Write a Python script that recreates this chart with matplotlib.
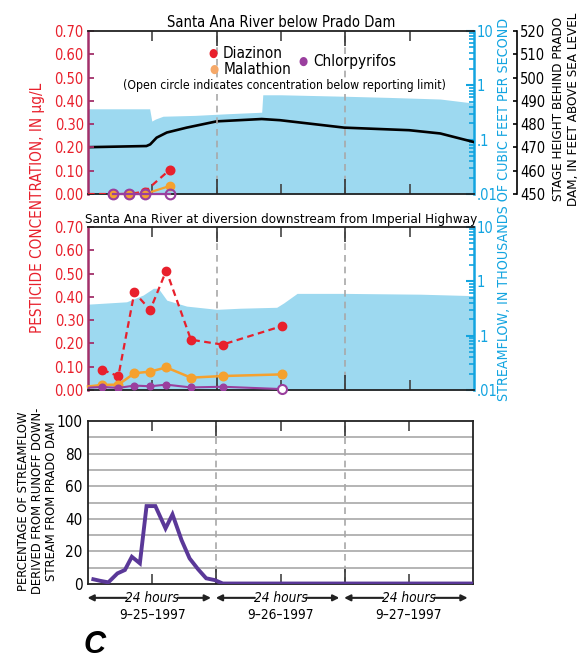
import matplotlib
matplotlib.use("Agg")
import matplotlib.pyplot as plt
from matplotlib.ticker import FixedLocator, NullFormatter, LogLocator, FixedFormatter
import numpy as np

plt.rcParams['font.family'] = ['DejaVu Sans']
plt.rcParams['font.stretch'] = 'condensed'

RED = '#e8202c'
ORANGE = '#f5a12e'
PURPLE = '#9a3f9e'
DARKPURPLE = '#5a3898'
CYAN = '#12a4e0'
FILL = '#9dd9f0'
LEFTSPINE = '#a3306a'
GRIDGRAY = '#b4b4b4'

# ---- Santa Ana River below Prado Dam ----
q1_hours = [0, 11.5, 11.9, 12.6, 14.0, 20.0, 26.0, 32.4, 32.6, 36.0, 47.8, 56.0, 65.7, 72]
q1_flow = [0.37, 0.37, 0.22, 0.24, 0.27, 0.28, 0.30, 0.32, 0.67, 0.67, 0.63, 0.60, 0.56, 0.47]

stage_hours = [0, 10.9, 11.6, 12.8, 14.7, 18.4, 24.0, 32.4, 35.8, 47.8, 59.9, 65.7, 72]
stage_ft = [470.1, 470.6, 471.3, 474.2, 476.4, 478.5, 481.2, 482.2, 481.7, 478.5, 477.4, 476.0, 472.3]

top_hours = [4.7, 7.6, 10.6, 15.3]
top_diaz = [0.0, 0.0, 0.01, 0.105]
top_mal = [0.0, 0.0, 0.0, 0.035]
top_chl = [0.0, 0.0, 0.0, 0.0]

# ---- Santa Ana River at diversion downstream from Imperial Highway ----
q2_hours = [0, 7.2, 10.3, 12.2, 13.1, 14.7, 18.4, 22.1, 24.0, 28.4, 35.2, 36.5, 39.0, 47.8, 62.0, 72]
q2_flow = [0.38, 0.42, 0.56, 0.745, 0.745, 0.45, 0.35, 0.32, 0.305, 0.32, 0.333, 0.40, 0.60, 0.60, 0.58, 0.545]

mid_hours = [2.67, 5.66, 8.65, 11.6, 14.6, 19.2, 25.1, 36.1]
mid_diaz = [0.087, 0.059, 0.419, 0.344, 0.513, 0.216, 0.195, 0.274]
mid_mal = [0.022, 0.023, 0.072, 0.079, 0.097, 0.053, 0.060, 0.067]
mid_chl = [0.013, 0.009, 0.019, 0.016, 0.023, 0.011, 0.014, 0.004]

# ---- runoff percentage ----
pct_hours = [1.0, 2.2, 3.8, 5.5, 6.9, 8.2, 9.7, 10.95, 12.6, 14.5, 15.8, 17.5,
             19.0, 20.6, 22.1, 23.7, 25.2, 72]
pct = [2.9, 2.0, 1.0, 6.5, 8.6, 16.7, 12.7, 47.8, 47.8, 34.1, 42.7, 26.9,
       15.7, 9.0, 3.5, 2.4, 0.3, 0.3]

day_labels = ['9–25–1997', '9–26–1997', '9–27–1997']

fig = plt.figure(figsize=(5.82, 6.59), dpi=100)
L, W = 88 / 582, 386 / 582
H = 163 / 659


def frac(ytop):
    return 1 - (ytop + 163) / 659


def time_axis(ax):
    ax.set_xlim(0, 72)
    ax.xaxis.set_major_locator(FixedLocator([24, 48]))
    ax.xaxis.set_minor_locator(FixedLocator([12, 36, 60]))
    ax.tick_params(axis='x', which='major', direction='in', top=True, bottom=True,
                   length=11, width=1.2, color='#333333', labelbottom=False)
    ax.tick_params(axis='x', which='minor', direction='in', top=True, bottom=True,
                   length=7.5, width=1.2, color='#444444')
    for d in (24, 48):
        ax.axvline(d, color='#a8a8a8', lw=1.2, dashes=(4, 3), zorder=0.5)


def pesticide_panel(ytop, title, fill_h, fill_q, title_size):
    ax = fig.add_axes([L, frac(ytop), W, H])
    axq = ax.twinx()
    axq.set_zorder(1)
    ax.set_zorder(3)
    ax.patch.set_visible(False)

    axq.fill_between(fill_h, 0.01, fill_q, color=FILL, lw=0)
    axq.set_yscale('log')
    axq.set_ylim(0.01, 10)
    axq.yaxis.set_major_locator(FixedLocator([0.01, 0.1, 1, 10]))
    axq.yaxis.set_major_formatter(FixedFormatter(['.01', '.1', '1', '10']))
    axq.yaxis.set_minor_locator(LogLocator(base=10, subs=np.arange(2, 10)))
    axq.yaxis.set_minor_formatter(NullFormatter())
    axq.tick_params(axis='y', which='major', direction='in', length=6, width=1.5,
                    color=CYAN, labelcolor=CYAN, labelsize=10.5, pad=2)
    axq.tick_params(axis='y', which='minor', direction='in', length=3.5, width=1.2, color=CYAN)
    for s in ('left', 'top', 'bottom'):
        axq.spines[s].set_visible(False)
    axq.spines['right'].set_color(CYAN)
    axq.spines['right'].set_linewidth(1.8)

    ax.set_ylim(0, 0.7)
    ax.set_yticks(np.arange(0, 0.71, 0.1))
    ax.set_yticklabels([f'{v:.2f}' for v in np.arange(0, 0.71, 0.1)])
    ax.tick_params(axis='y', direction='in', length=4.5, width=1.3, color=LEFTSPINE,
                   labelcolor=RED, labelsize=10.5, pad=3)
    ax.spines['left'].set_color(LEFTSPINE)
    ax.spines['left'].set_linewidth(1.8)
    ax.spines['right'].set_visible(False)
    for s in ('top', 'bottom'):
        ax.spines[s].set_linewidth(1.3)
        ax.spines[s].set_color('#222222')
    time_axis(ax)
    ax.set_title(title, fontsize=title_size, pad=3)
    return ax, axq


# top panel
ax1, ax1q = pesticide_panel(31, 'Santa Ana River below Prado Dam', q1_hours, q1_flow, 10.6)
ax1s = ax1.twinx()
ax1s.set_zorder(2)
ax1s.patch.set_visible(False)
ax1s.plot(stage_hours, stage_ft, color='black', lw=1.9)
ax1s.set_ylim(450, 520)
ax1s.set_yticks(np.arange(450, 521, 10))
ax1s.spines['right'].set_position(('outward', 31))
ax1s.spines['right'].set_linewidth(1.2)
for s in ('left', 'top', 'bottom'):
    ax1s.spines[s].set_visible(False)
ax1s.tick_params(axis='y', direction='in', length=3, width=1.2, labelsize=10.5, pad=2)

ax1.plot([0] + top_hours, [0] + top_diaz, color=RED, lw=1.6, dashes=(3, 2), zorder=4)
ax1.plot(top_hours[:2], top_diaz[:2], 'o', ms=6.2, mfc='none', mec=RED, mew=1.4,
         clip_on=False, zorder=5)
ax1.plot(top_hours[2:], top_diaz[2:], 'o', ms=6.2, color=RED, clip_on=False, zorder=5)
ax1.plot(top_hours, top_mal, '-o', color=ORANGE, lw=1.6, ms=6.0, clip_on=False, zorder=6)
ax1.plot(top_hours, top_chl, '-o', color=PURPLE, lw=1.6, ms=7.0, mfc='none', mew=1.5,
         clip_on=False, zorder=7)

ax1.text(0.324, 0.862, '●', color=RED, fontsize=8.5, family='DejaVu Sans',
         transform=ax1.transAxes, ha='center', va='center')
ax1.text(0.35, 0.862, 'Diazinon', fontsize=11, transform=ax1.transAxes, va='center')
ax1.text(0.326, 0.765, '●', color='#f5a868', fontsize=8.5, family='DejaVu Sans',
         transform=ax1.transAxes, ha='center', va='center')
ax1.text(0.352, 0.765, 'Malathion', fontsize=11, transform=ax1.transAxes, va='center')
ax1.text(0.557, 0.815, '●', color=PURPLE, fontsize=8.5, family='DejaVu Sans',
         transform=ax1.transAxes, ha='center', va='center')
ax1.text(0.583, 0.815, 'Chlorpyrifos', fontsize=11, transform=ax1.transAxes, va='center')
ax1.text(0.508, 0.668, '(Open circle indicates concentration below reporting limit)',
         fontsize=8.8, transform=ax1.transAxes, ha='center', va='center')

# middle panel
ax2, ax2q = pesticide_panel(227, 'Santa Ana River at diversion downstream from Imperial Highway',
                            q2_hours, q2_flow, 9.6)
ax2.plot(mid_hours, mid_diaz, '-o', color=RED, lw=1.6, dashes=(3, 2), ms=6, zorder=5)
ax2.plot([0] + mid_hours, [0.015] + mid_mal, '-o', color=ORANGE, lw=1.8, ms=6.2,
         markevery=slice(1, None), clip_on=False, zorder=6)
ax2.plot([0] + mid_hours, [0.01] + mid_chl, '-', color=PURPLE, lw=1.5, zorder=7)
ax2.plot(mid_hours[:-1], mid_chl[:-1], 'o', color=PURPLE, ms=4.8, zorder=7)
ax2.plot(mid_hours[-1:], mid_chl[-1:], 'o', ms=6.5, mfc='white', mec=PURPLE, mew=1.5,
         clip_on=False, zorder=8)

# bottom panel
ax3 = fig.add_axes([L, frac(421), 385 / 582, H])
ax3.plot(pct_hours, pct, color=DARKPURPLE, lw=2.8, solid_joinstyle='miter', zorder=4)
ax3.set_ylim(0, 100)
ax3.set_yticks(np.arange(0, 101, 20))
ax3.tick_params(axis='y', length=0, labelsize=11, pad=4)
for g in range(10, 100, 10):
    ax3.axhline(g, color=GRIDGRAY, lw=1.4, zorder=0.4)
for s in ax3.spines.values():
    s.set_linewidth(1.3)
    s.set_color('#222222')
time_axis(ax3)

# day brackets under the time axis
tr = ax3.get_xaxis_transform()
for i, lab in enumerate(day_labels):
    x0 = 24 * i
    xc = x0 + 12
    ax3.text(xc, -0.085, '24 hours', transform=tr, ha='center', va='center',
             fontsize=9.8, style='italic')
    ax3.text(xc, -0.19, lab, transform=tr, ha='center', va='center', fontsize=9.8)
    arrow = dict(arrowstyle='-|>', color='#222222', lw=1.5, mutation_scale=9,
                 shrinkA=0, shrinkB=0)
    ax3.annotate('', xy=(x0 - 0.1, -0.085), xytext=(xc - 4.8, -0.085), xycoords=tr,
                 textcoords=tr, arrowprops=arrow, annotation_clip=False)
    ax3.annotate('', xy=(x0 + 23.0, -0.085), xytext=(xc + 4.8, -0.085), xycoords=tr,
                 textcoords=tr, arrowprops=arrow, annotation_clip=False)

# axis titles
fig.text(38 / 582, 1 - 208 / 659, 'PESTICIDE CONCENTRATION, IN µg/L', color=RED,
         rotation=90, ha='center', va='center', fontsize=11)
fig.text(504 / 582, 1 - 209 / 659, 'STREAMFLOW, IN THOUSANDS OF CUBIC FEET PER SECOND',
         color=CYAN, rotation=90, ha='center', va='center', fontsize=10.2)
fig.text(566 / 582, 1 - 109 / 659, 'STAGE HEIGHT BEHIND PRADO\nDAM, IN FEET ABOVE SEA LEVEL',
         rotation=90, ha='center', va='center', fontsize=9.6, linespacing=1.1)
fig.text(38 / 582, 1 - 501 / 659,
         'PERCENTAGE OF STREAMFLOW\nDERIVED FROM RUNOFF DOWN-\nSTREAM FROM PRADO DAM',
         rotation=90, ha='center', va='center', fontsize=9.3, linespacing=1.1)

fig.text(95 / 582, 1 - 645 / 659, 'C', fontsize=22, fontweight='bold', style='italic',
         family=['Liberation Sans', 'DejaVu Sans'], ha='center', va='center')

fig.savefig('out.png', dpi=100)
